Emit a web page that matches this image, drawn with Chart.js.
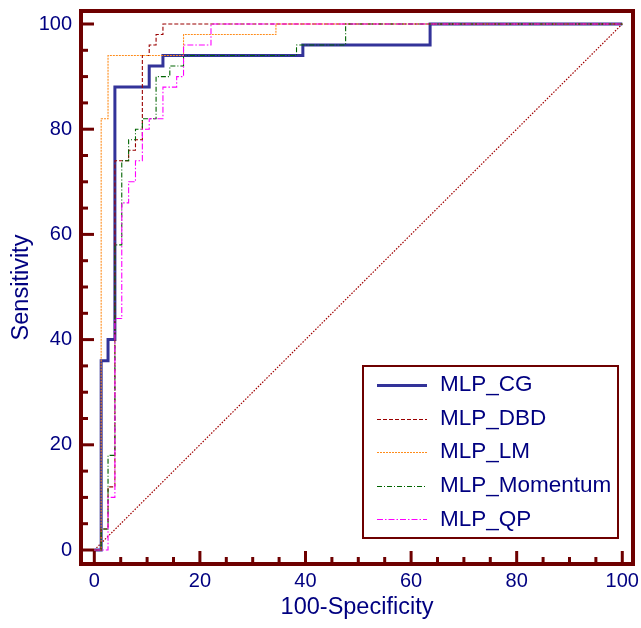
<!DOCTYPE html>
<html><head><meta charset="utf-8">
<style>html,body{margin:0;padding:0;background:#fff}#wrap{width:641px;height:628px}</style>
<script src="https://cdn.jsdelivr.net/npm/chart.js@4.4.1/dist/chart.umd.min.js"></script>
</head><body><div id="wrap"><canvas id="c" width="641" height="628"></canvas></div>
<script>
const seriesNames = ['MLP_CG', 'MLP_DBD', 'MLP_LM', 'MLP_Momentum', 'MLP_QP'];
const xTitle = '100-Specificity';
const yTitle = 'Sensitivity';
const tickValues = [0, 20, 40, 60, 80, 100];

const cgX = [0, 1.3, 1.3, 2.6, 2.6, 3.9, 3.9, 10.4, 10.4, 13.0, 13.0, 39.5, 39.5, 63.6, 63.6, 100];
const cgY = [0, 0, 36, 36, 40, 40, 88, 88, 92, 92, 94, 94, 96, 96, 100, 100];

const dbdX = [0, 1.3, 1.3, 2.6, 2.6, 3.9, 3.9, 6.5, 6.5, 7.8, 7.8, 9.1, 9.1, 10.4, 10.4, 11.7, 11.7, 13.0, 13.0, 100];
const dbdY = [0, 0, 4, 4, 12, 12, 74, 74, 76, 76, 78, 78, 94, 94, 96, 96, 98, 98, 100, 100];

const lmX = [0, 1.3, 1.3, 2.6, 2.6, 16.9, 16.9, 34.4, 34.4, 100];
const lmY = [0, 0, 82, 82, 94, 94, 98, 98, 100, 100];

const momX = [0, 1.3, 1.3, 2.6, 2.6, 3.9, 3.9, 5.2, 5.2, 6.5, 6.5, 7.8, 7.8, 9.1, 9.1, 11.7, 11.7, 14.3, 14.3, 16.9, 16.9, 38.3, 38.3, 47.6, 47.6, 100];
const momY = [0, 0, 4, 4, 18, 18, 58, 58, 74, 74, 78, 78, 80, 80, 82, 82, 90, 90, 92, 92, 94, 94, 96, 96, 100, 100];

const qpX = [0, 2.6, 2.6, 3.9, 3.9, 5.2, 5.2, 6.5, 6.5, 7.8, 7.8, 9.1, 9.1, 10.4, 10.4, 13.0, 13.0, 15.6, 15.6, 16.9, 16.9, 22.1, 22.1, 100];
const qpY = [0, 0, 10, 10, 44, 44, 66, 66, 70, 70, 74, 74, 80, 80, 82, 82, 88, 88, 90, 90, 96, 96, 100, 100];

const refX = [0, 100];
const refY = [0, 100];

const pts = (xs, ys) => xs.map((x, i) => ({x: x, y: ys[i]}));

const FRAME = '#6e0000';
const TEXT = '#000080';
const FONT = "'Liberation Sans', Arial, sans-serif";

const datasets = [
  {label: seriesNames[0], data: pts(cgX, cgY), borderColor: '#333399', borderWidth: 3, borderDash: [], order: 5},
  {label: seriesNames[1], data: pts(dbdX, dbdY), borderColor: '#9a0000', borderWidth: 1.1, borderDash: [4, 2], order: 4},
  {label: seriesNames[2], data: pts(lmX, lmY), borderColor: '#ff8c1a', borderWidth: 1.1, borderDash: [2, 1], order: 3},
  {label: seriesNames[3], data: pts(momX, momY), borderColor: '#006400', borderWidth: 1.1, borderDash: [5, 2, 1, 2], order: 2},
  {label: seriesNames[4], data: pts(qpX, qpY), borderColor: '#ff00ff', borderWidth: 1.1, borderDash: [6, 2, 1.5, 2], order: 1},
  {label: 'ref', data: pts(refX, refY), borderColor: '#a00000', borderWidth: 1.2, borderDash: [1.5, 1.5], order: 6, isRef: true}
].map(d => Object.assign({showLine: true, pointRadius: 0, fill: false, tension: 0}, d));

const framePlugin = {
  id: 'frameTicks',
  afterDatasetsDraw(chart) {
    const ctx = chart.ctx, a = chart.chartArea;
    const xs = chart.scales.x, ys = chart.scales.y;
    ctx.save();
    ctx.strokeStyle = FRAME;
    ctx.lineWidth = 3;
    ctx.lineCap = 'butt';
    for (let v = 0; v <= 100; v += 5) {
      const len = v % 20 === 0 ? 13 : 7;
      const px = xs.getPixelForValue(v);
      ctx.beginPath(); ctx.moveTo(px, a.bottom); ctx.lineTo(px, a.bottom - len); ctx.stroke();
      const py = ys.getPixelForValue(v);
      ctx.beginPath(); ctx.moveTo(a.left, py); ctx.lineTo(a.left + len, py); ctx.stroke();
    }
    ctx.lineWidth = 4;
    ctx.strokeRect(a.left, a.top, a.right - a.left, a.bottom - a.top);
    ctx.restore();
  }
};

const legendPlugin = {
  id: 'boxLegend',
  afterDraw(chart) {
    const ctx = chart.ctx;
    const bx = 363, by = 366, bw = 255, bh = 172;
    ctx.save();
    ctx.fillStyle = '#fff';
    ctx.fillRect(bx, by, bw, bh);
    ctx.strokeStyle = FRAME;
    ctx.lineWidth = 2;
    ctx.strokeRect(bx, by, bw, bh);
    const items = chart.data.datasets.filter(d => !d.isRef);
    items.forEach((d, i) => {
      const cy = 385 + i * 33.6;
      ctx.strokeStyle = d.borderColor;
      ctx.lineWidth = d.borderWidth;
      ctx.setLineDash(d.borderDash || []);
      ctx.beginPath(); ctx.moveTo(377, Math.round(cy) + 0.5); ctx.lineTo(427, Math.round(cy) + 0.5); ctx.stroke();
      ctx.setLineDash([]);
      ctx.fillStyle = TEXT;
      ctx.font = '22.5px ' + FONT;
      ctx.textBaseline = 'middle';
      ctx.textAlign = 'left';
      ctx.fillText(d.label, 440, cy);
    });
    ctx.restore();
  }
};

function zeroPad(s) { s.paddingTop = 0; s.paddingBottom = 0; s.paddingLeft = 0; s.paddingRight = 0; }

new Chart(document.getElementById('c'), {
  type: 'scatter',
  data: {datasets: datasets},
  options: {
    responsive: false,
    animation: false,
    devicePixelRatio: 1,
    layout: {padding: {top: 11, right: 8, left: 0, bottom: 0}},
    plugins: {legend: {display: false}, tooltip: {enabled: false}},
    scales: {
      x: {
        type: 'linear', min: -2.52, max: 102.03,
        afterFit: s => { s.height = 64; zeroPad(s); },
        grid: {display: false, drawTicks: false},
        border: {display: false},
        afterBuildTicks: s => { s.ticks = tickValues.map(v => ({value: v})); },
        ticks: {color: TEXT, font: {family: FONT, size: 20}, padding: 5, maxRotation: 0, autoSkip: false},
        title: {display: true, text: xTitle, color: TEXT, font: {family: FONT, size: 23.5}, padding: {top: 0, bottom: 6}}
      },
      y: {
        type: 'linear', min: -2.66, max: 102.47,
        afterFit: s => { s.width = 81; zeroPad(s); },
        grid: {display: false, drawTicks: false},
        border: {display: false},
        afterBuildTicks: s => { s.ticks = tickValues.map(v => ({value: v})); },
        ticks: {color: TEXT, font: {family: FONT, size: 20}, padding: 9, autoSkip: false},
        title: {display: true, text: yTitle, color: TEXT, font: {family: FONT, size: 23.5}, padding: {top: 7, bottom: 0}}
      }
    }
  },
  plugins: [framePlugin, legendPlugin]
});
</script>
</body></html>
